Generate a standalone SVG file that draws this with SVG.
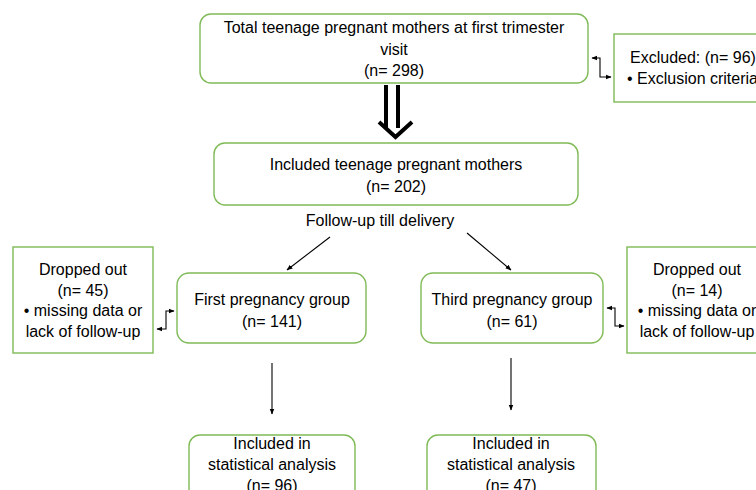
<svg xmlns="http://www.w3.org/2000/svg" width="756" height="490" viewBox="0 0 756 490">
<defs>
<marker id="ah" viewBox="0 0 10 10" refX="9" refY="5" markerWidth="6" markerHeight="6" orient="auto-start-reverse" markerUnits="userSpaceOnUse">
<path d="M0,1 L10,5 L0,9 z" fill="#000"/>
</marker>
<style>
.box{fill:#fff;stroke:#7fba56;stroke-width:1.4}
.t{font-family:"Liberation Sans",Arial,sans-serif;font-size:16px;fill:#000;text-anchor:middle}
.ts{font-family:"Liberation Sans",Arial,sans-serif;font-size:16px;fill:#000}
.c{fill:none;stroke:#000;stroke-width:1.1}
</style>
</defs>
<rect width="756" height="490" fill="#fff"/>
<g id="connectors">
<polyline class="c" points="592,58 600,58 600,77 611,77" marker-start="url(#ah)" marker-end="url(#ah)"/>
<g id="bigArrow" fill="#000">
<rect x="384" y="85" width="4" height="43"/>
<rect x="396" y="85" width="4" height="43"/>
<polyline points="379,122 395.5,137 412,122" fill="none" stroke="#000" stroke-width="4"/>
</g>
<line class="c" x1="330" y1="237" x2="287" y2="270" marker-end="url(#ah)"/>
<line class="c" x1="467" y1="233" x2="511" y2="270" marker-end="url(#ah)"/>
<polyline class="c" points="157,329 166,329 166,311 174,311" marker-start="url(#ah)" marker-end="url(#ah)"/>
<polyline class="c" points="607,308 615,308 615,326 624,326" marker-start="url(#ah)" marker-end="url(#ah)"/>
<line class="c" x1="272" y1="363" x2="272" y2="414" marker-end="url(#ah)"/>
<line class="c" x1="511" y1="358" x2="511" y2="410" marker-end="url(#ah)"/>
</g>
<g id="total">
<rect class="box" x="200" y="14" width="388" height="69" rx="11"/>
<text class="t" x="394" y="33">Total teenage pregnant mothers at first trimester</text>
<text class="t" x="394" y="55">visit</text>
<text class="t" x="394" y="76">(n= 298)</text>
</g>
<g id="excluded">
<rect class="box" x="614" y="34" width="160" height="68"/>
<text class="ts" x="630" y="63">Excluded: (n= 96)</text>
<text class="ts" x="627" y="84">• Exclusion criteria</text>
</g>
<g id="included">
<rect class="box" x="214" y="143" width="364" height="62" rx="11"/>
<text class="t" x="396" y="170">Included teenage pregnant mothers</text>
<text class="t" x="396" y="192">(n= 202)</text>
</g>
<g id="followup">
<text class="t" x="380" y="226">Follow-up till delivery</text>
</g>
<g id="dropLeft">
<rect class="box" x="13" y="247" width="140" height="106"/>
<text class="t" x="83" y="275">Dropped out</text>
<text class="t" x="83" y="296">(n= 45)</text>
<text class="t" x="83" y="316">• missing data or</text>
<text class="t" x="83" y="337">lack of follow-up</text>
</g>
<g id="firstGroup">
<rect class="box" x="177" y="273" width="189" height="70" rx="12"/>
<text class="t" x="272" y="305">First pregnancy group</text>
<text class="t" x="272" y="327">(n= 141)</text>
</g>
<g id="thirdGroup">
<rect class="box" x="421" y="273" width="182" height="70" rx="12"/>
<text class="t" x="512" y="305">Third pregnancy group</text>
<text class="t" x="512" y="327">(n= 61)</text>
</g>
<g id="dropRight">
<rect class="box" x="627" y="247" width="150" height="106"/>
<text class="t" x="697" y="275">Dropped out</text>
<text class="t" x="697" y="296">(n= 14)</text>
<text class="t" x="697" y="316">• missing data or</text>
<text class="t" x="697" y="337">lack of follow-up</text>
</g>
<g id="analysisLeft">
<rect class="box" x="189" y="435" width="166" height="70" rx="11"/>
<text class="t" x="272" y="449">Included in</text>
<text class="t" x="272" y="470">statistical analysis</text>
<text class="t" x="272" y="491">(n= 96)</text>
</g>
<g id="analysisRight">
<rect class="box" x="427" y="435" width="169" height="70" rx="11"/>
<text class="t" x="511" y="449">Included in</text>
<text class="t" x="511" y="470">statistical analysis</text>
<text class="t" x="511" y="491">(n= 47)</text>
</g>
</svg>
